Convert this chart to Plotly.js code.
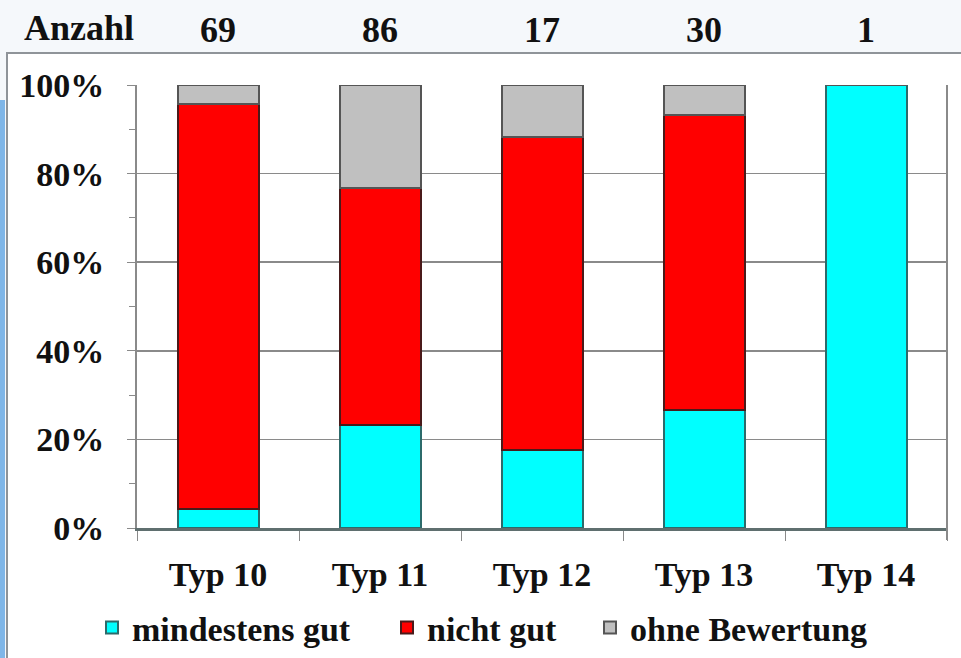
<!DOCTYPE html>
<html>
<head>
<meta charset="utf-8">
<script src="https://cdn.plot.ly/plotly-3.0.1.min.js"></script>
<style>html,body{margin:0;padding:0;background:#f5f8fb;}#chart{width:961px;height:658px;}</style>
</head>
<body>
<div id="chart"></div>
<script>
const categories = ["Typ 10", "Typ 11", "Typ 12", "Typ 13", "Typ 14"];
const counts = ["69", "86", "17", "30", "1"];
const mindestensGut = [4.3, 23.3, 17.6, 26.7, 100];
const nichtGut = [91.3, 53.5, 70.6, 66.6, 0];
const ohneBewertung = [4.4, 23.2, 11.8, 6.7, 0];
const seriesNames = ["mindestens gut", "nicht gut", "ohne Bewertung"];

const FONT = "Liberation Serif, Times New Roman, serif";
const W = 961, H = 658, L = 137, R = 14, T = 85, B = 130;
const pw = W - L - R, ph = H - T - B;
const px = x => (x - L) / pw;
const py = y => (H - B - y) / ph;

const styles = [
  {color: "#00ffff", line: "#2c6b6b", legend: "legend"},
  {color: "#ff0000", line: "#4a1a1a", legend: "legend2"},
  {color: "#c0c0c0", line: "#555555", legend: "legend3"}
];
const seriesValues = [mindestensGut, nichtGut, ohneBewertung];
const traces = seriesValues.map((vals, i) => ({
  type: "bar", x: categories, y: vals, name: seriesNames[i],
  marker: {color: styles[i].color, line: {color: styles[i].line, width: 2}},
  legend: styles[i].legend,
  hoverinfo: "skip"
}));

const annotations = categories.map((c, i) => ({
  x: c, xref: "x", y: py(30), yref: "paper", text: "<b>" + counts[i] + "</b>",
  showarrow: false, font: {family: FONT, size: 36, color: "#111"}, xanchor: "center", yanchor: "middle"
}));
annotations.push({
  x: px(79), xref: "paper", y: py(28), yref: "paper", text: "<b>Anzahl</b>",
  showarrow: false, font: {family: FONT, size: 36, color: "#111"}, xanchor: "center", yanchor: "middle"
});

function legendAt(xpix) {
  return {
    orientation: "h", xref: "container", yref: "container",
    x: xpix / W, xanchor: "left", y: 1 - 628 / H, yanchor: "middle",
    font: {family: FONT, size: 34, color: "#111", weight: "bold"},
    bgcolor: "rgba(0,0,0,0)", borderwidth: 0
  };
}

const layout = {
  width: W, height: H,
  margin: {l: L, r: R, t: T, b: B},
  paper_bgcolor: "#f5f8fb",
  plot_bgcolor: "#ffffff",
  barmode: "stack",
  bargap: 0.5,
  showlegend: true,
  legend: legendAt(92),
  legend2: legendAt(387),
  legend3: legendAt(590),
  font: {family: FONT, color: "#111"},
  xaxis: {
    type: "category", showgrid: false, showline: true, linecolor: "#5f6f6f", linewidth: 2.5,
    ticks: "outside", ticklen: 10, tickcolor: "#8a8a8a", tickson: "boundaries",
    tickfont: {family: FONT, size: 34, color: "#111", weight: "bold"},
    ticklabelstandoff: 15, fixedrange: true, automargin: false
  },
  yaxis: {
    range: [0, 100], tickvals: [0, 20, 40, 60, 80, 100],
    ticktext: ["0%", "20%", "40%", "60%", "80%", "100%"],
    showgrid: true, gridcolor: "#8a8a8a", gridwidth: 1.5,
    showline: true, linecolor: "#8a8a8a", linewidth: 2,
    ticks: "outside", ticklen: 8, tickcolor: "#8a8a8a",
    minor: {tickvals: [10, 30, 50, 70, 90], ticks: "outside", ticklen: 6, tickcolor: "#8a8a8a"},
    tickfont: {family: FONT, size: 34, color: "#111", weight: "bold"},
    ticklabelstandoff: 16, zeroline: false, fixedrange: true, automargin: false
  },
  shapes: [
    {type: "rect", xref: "paper", yref: "paper", x0: px(7), x1: px(964), y0: py(53), y1: py(665),
     fillcolor: "#ffffff", line: {color: "#8f9499", width: 2}, layer: "below"},
    {type: "rect", xref: "paper", yref: "paper", x0: px(0), x1: px(5), y0: py(100), y1: py(665),
     fillcolor: "#7fb6e8", line: {width: 0}, layer: "below"},
    {type: "line", xref: "paper", yref: "paper", x0: 1, x1: 1, y0: py(540), y1: 1,
     line: {color: "#8a8a8a", width: 2}}
  ],
  annotations: annotations
};

Plotly.newPlot("chart", traces, layout, {displayModeBar: false, staticPlot: true});
</script>
</body>
</html>
